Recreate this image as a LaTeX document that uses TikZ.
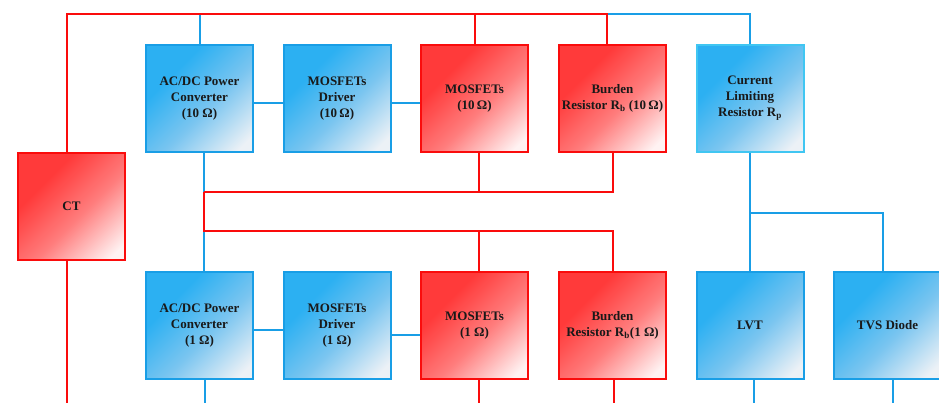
\documentclass[tikz,border=0pt]{standalone}
\usepackage{fontspec}
\setmainfont{Liberation Serif}
\usetikzlibrary{calc}
\definecolor{redL}{RGB}{250,12,12}
\definecolor{blueL}{RGB}{25,158,230}
\definecolor{cyanL}{RGB}{64,198,242}
\definecolor{rA}{RGB}{255,58,58}
\definecolor{rM}{RGB}{255,125,125}
\definecolor{rB}{RGB}{255,242,242}
\definecolor{bA}{RGB}{44,176,242}
\definecolor{bM}{RGB}{122,197,240}
\definecolor{bB}{RGB}{236,241,246}
\pgfdeclarehorizontalshading{redsh}{100bp}{color(0bp)=(rA); color(33bp)=(rA); color(56bp)=(rM); color(80bp)=(rB); color(100bp)=(rB)}
\pgfdeclarehorizontalshading{bluesh}{100bp}{color(0bp)=(bA); color(33bp)=(bA); color(56bp)=(bM); color(80bp)=(bB); color(100bp)=(bB)}
\tikzset{
  box/.style={line width=2pt, minimum size=107pt, inner sep=0pt, align=center,
    font=\fontsize{13}{16}\selectfont\bfseries, text=black!90, shade, shading angle=-45},
  redbox/.style={box, draw=redL, shading=redsh},
  bluebox/.style={box, draw=blueL, shading=bluesh},
  rw/.style={draw=redL, line width=2pt},
  bw/.style={draw=blueL, line width=2pt},
}
\begin{document}
\begin{tikzpicture}[x=1pt,y=-1pt]
\useasboundingbox (0,0) rectangle (939,403);
\clip (0,0) rectangle (939,403);
% boxes
\node[redbox] (CT) at (71.5,206.5) {CT};
\node[bluebox] (AC1) at (199.5,98.5) {AC/DC Power\\Converter\\(10 Ω)};
\node[bluebox] (DR1) at (337,98.5) {MOSFETs\\Driver\\(10\,Ω)};
\node[redbox] (M1) at (474.5,98.5) {MOSFETs\\(10\,Ω)};
\node[redbox] (BR1) at (612.5,98.5) {Burden\\Resistor R\textsubscript{b} (10\,Ω)};
\node[bluebox, draw=cyanL] (CL) at (750,98.5) {Current\\Limiting\\Resistor R\textsubscript{p}};
\node[bluebox] (AC2) at (199.5,325.5) {AC/DC Power\\Converter\\(1 Ω)};
\node[bluebox] (DR2) at (337,325.5) {MOSFETs\\Driver\\(1 Ω)};
\node[redbox] (M2) at (474.5,325.5) {MOSFETs\\(1 Ω)};
\node[redbox] (BR2) at (612.5,325.5) {Burden\\Resistor R\textsubscript{b}(1 Ω)};
\node[bluebox] (LVT) at (750,325.5) {LVT};
\node[bluebox] (TVS) at (887.5,325.5) {TVS Diode};
% junction coordinates
\coordinate (busR) at (607,14);
\coordinate (j1) at (204,192);
\coordinate (k1) at (613,192);
\coordinate (j2) at (204,231);
\coordinate (k2) at (613,231);
\coordinate (j3) at (750,213);
\coordinate (e0) at (67,410);
\coordinate (e1) at (205,410);
\coordinate (e3) at (479,410);
\coordinate (e4) at (614,410);
\coordinate (e5) at (754,410);
\coordinate (e6) at (893,410);
\coordinate (m1b) at ($(M1.south)+(4.5,0)$);
\coordinate (m2t) at ($(M2.north)+(4.5,0)$);
% blue connectors
\draw[bw] (AC1.north) -- (AC1.north |- busR);
\draw[bw] (busR) -| (CL.north);
\draw[bw] ($(AC1.east)+(0,4.5)$) -- ($(DR1.west)+(0,4.5)$);
\draw[bw] ($(DR1.east)+(0,4.5)$) -- ($(M1.west)+(0,4.5)$);
\draw[bw] ($(AC1.south)+(4.5,0)$) -- (j1);
\draw[bw] (j2) -- ($(AC2.north)+(4.5,0)$);
\draw[bw] ($(AC2.east)+(0,4.5)$) -- ($(DR2.west)+(0,4.5)$);
\draw[bw] ($(DR2.east)+(0,9.5)$) -- ($(M2.west)+(0,9.5)$);
\draw[bw] (CL.south) -- (j3) -| ($(TVS.north)+(-4.5,0)$);
\draw[bw] (j3) -- (LVT.north);
\draw[bw] ($(AC2.south)+(5.5,0)$) -- (e1);
\draw[bw] ($(LVT.south)+(4,0)$) -- (e5);
\draw[bw] ($(TVS.south)+(5.5,0)$) -- (e6);
% red connectors
\draw[rw] ($(CT.north)+(-4.5,0)$) |- (busR) -- ($(BR1.north)+(-5.5,0)$);
\draw[rw] (M1.north) -- (M1.north |- busR);
\draw[rw] (m1b) -- (m1b |- j1);
\draw[rw] (j1) -- (k1) -- ($(BR1.south)+(0.5,0)$);
\draw[rw] (j1) -- (j2) -- (k2) -- ($(BR2.north)+(0.5,0)$);
\draw[rw] (m2t) -- (m2t |- j2);
\draw[rw] ($(CT.south)+(-4.5,0)$) -- (e0);
\draw[rw] ($(M2.south)+(4.5,0)$) -- (e3);
\draw[rw] ($(BR2.south)+(1.5,0)$) -- (e4);
\end{tikzpicture}
\end{document}
